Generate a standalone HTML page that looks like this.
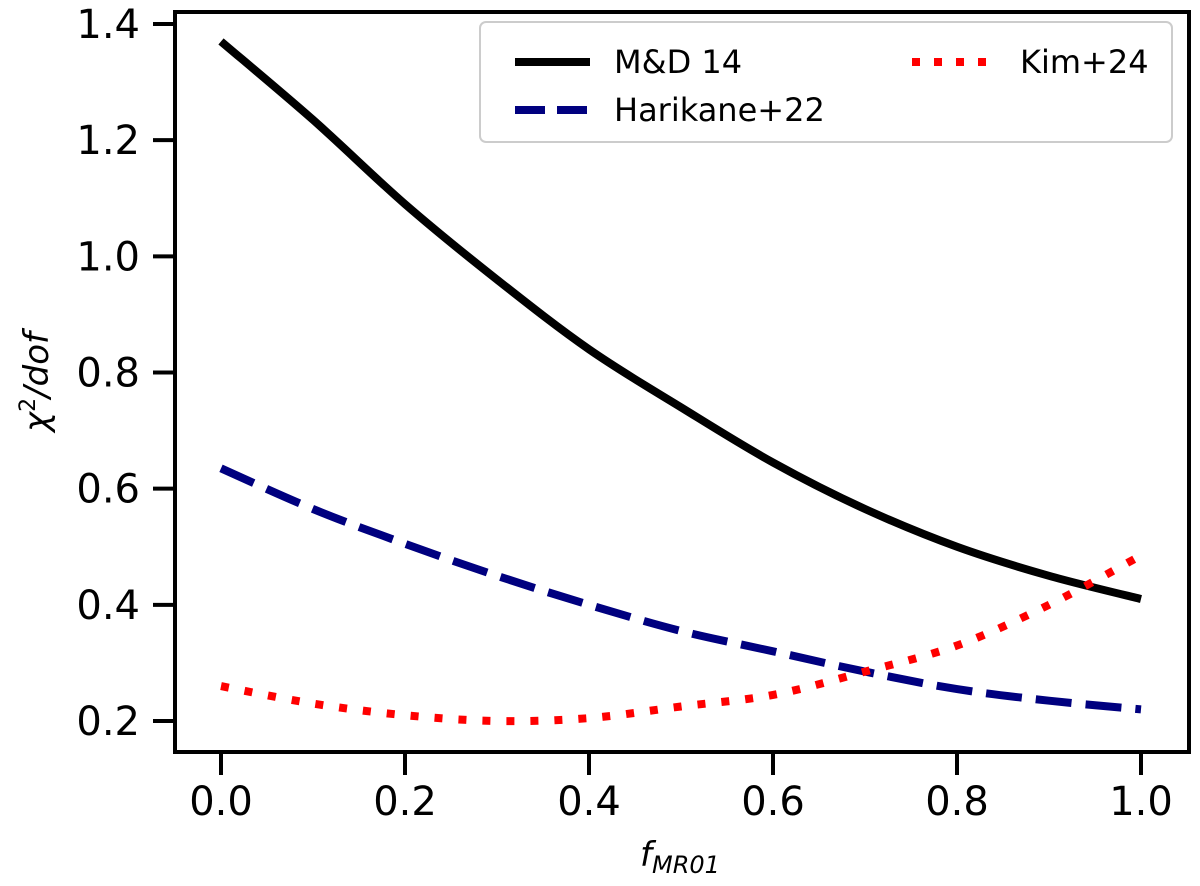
<!DOCTYPE html>
<html><head><meta charset="utf-8"><style>
body{margin:0;background:#fff}
svg text{font-family:"DejaVu Sans","Liberation Sans",sans-serif}
</style></head><body>
<svg id="chart" width="1200" height="881" viewBox="0 0 1200 881">
<g id="series"></g>
<rect x="175" y="12" width="1014" height="740" fill="none" stroke="#000" stroke-width="4"/>
<g id="ticks"></g>
<text x="680" y="866" font-size="34" text-anchor="middle" font-style="italic">f<tspan font-size="24" dy="7">MR01</tspan></text>
<text transform="translate(48,382) rotate(-90)" font-size="34" text-anchor="middle" font-style="italic">χ<tspan font-size="22" dy="-13" font-style="normal">2</tspan><tspan dy="13">/dof</tspan></text>
<g>
<rect x="480" y="22" width="692" height="120" rx="6" fill="#fff" stroke="#ccc" stroke-width="2"/>
<line x1="515" y1="62" x2="590" y2="62" stroke="#000" stroke-width="8"/>
<text x="614" y="73" font-size="32">M&amp;D 14</text>
<line x1="515" y1="110" x2="590" y2="110" stroke="#00007f" stroke-width="8" stroke-dasharray="30 12"/>
<text x="614" y="121" font-size="32">Harikane+22</text>
<line x1="912" y1="62" x2="987" y2="62" stroke="#f00" stroke-width="8" stroke-dasharray="8 14"/>
<text x="1020" y="73" font-size="32">Kim+24</text>
</g>
</svg>
<script>
const xs=[0,0.1,0.2,0.3,0.4,0.5,0.6,0.7,0.8,0.9,1.0];
const md14=[1.37,1.235,1.09,0.96,0.84,0.74,0.645,0.565,0.50,0.45,0.41];
const harikane=[0.635,0.565,0.505,0.45,0.40,0.355,0.32,0.285,0.255,0.235,0.22];
const kim=[0.26,0.23,0.21,0.20,0.205,0.225,0.245,0.285,0.33,0.40,0.485];
const xTicks=[0,0.2,0.4,0.6,0.8,1.0];
const xTickLabels=["0.0","0.2","0.4","0.6","0.8","1.0"];
const yTicks=[0.2,0.4,0.6,0.8,1.0,1.2,1.4];
const yTickLabels=["0.2","0.4","0.6","0.8","1.0","1.2","1.4"];
const X=v=>221+v*920, Y=v=>721-(v-0.2)*(697/1.2);
const NS="http://www.w3.org/2000/svg";
const ser=document.getElementById('series'), tk=document.getElementById('ticks');
function mk(t,a,p){const e=document.createElementNS(NS,t);for(const k in a)e.setAttribute(k,a[k]);p.appendChild(e);return e;}
function smooth(ys){
 const P=xs.map((x,i)=>[X(x),Y(ys[i])]);
 let d='M'+P[0][0].toFixed(1)+','+P[0][1].toFixed(1);
 for(let i=0;i<P.length-1;i++){
  const p0=P[Math.max(i-1,0)],p1=P[i],p2=P[i+1],p3=P[Math.min(i+2,P.length-1)];
  const c1=[p1[0]+(p2[0]-p0[0])/6,p1[1]+(p2[1]-p0[1])/6];
  const c2=[p2[0]-(p3[0]-p1[0])/6,p2[1]-(p3[1]-p1[1])/6];
  d+='C'+c1.map(v=>v.toFixed(1)).join(',')+' '+c2.map(v=>v.toFixed(1)).join(',')+' '+p2.map(v=>v.toFixed(1)).join(',');
 }
 return d;}
let p;
p=mk('path',{d:smooth(md14),fill:'none',stroke:'#000','stroke-width':8,'stroke-linejoin':'round'},ser);


p=mk('path',{d:smooth(harikane),fill:'none',stroke:'#00007f','stroke-width':8,'stroke-dasharray':'36 14'},ser);


p=mk('path',{d:smooth(kim),fill:'none',stroke:'#f00','stroke-width':8,'stroke-dasharray':'8 16'},ser);


xTicks.forEach((v,i)=>{
 let l=mk('line',{x1:X(v),x2:X(v),y1:752,y2:775,stroke:'#000','stroke-width':4},tk);
 
 
 let t=mk('text',{x:X(v),y:815,'font-size':40,'text-anchor':'middle'},tk);t.textContent=xTickLabels[i];
 
 
});
yTicks.forEach((v,i)=>{
 let l=mk('line',{x1:153,x2:175,y1:Y(v),y2:Y(v),stroke:'#000','stroke-width':4},tk);
 
 
 let t=mk('text',{x:140,y:Y(v)+14,'font-size':40,'text-anchor':'end'},tk);t.textContent=yTickLabels[i];
 
 
});
</script>
</body></html>
